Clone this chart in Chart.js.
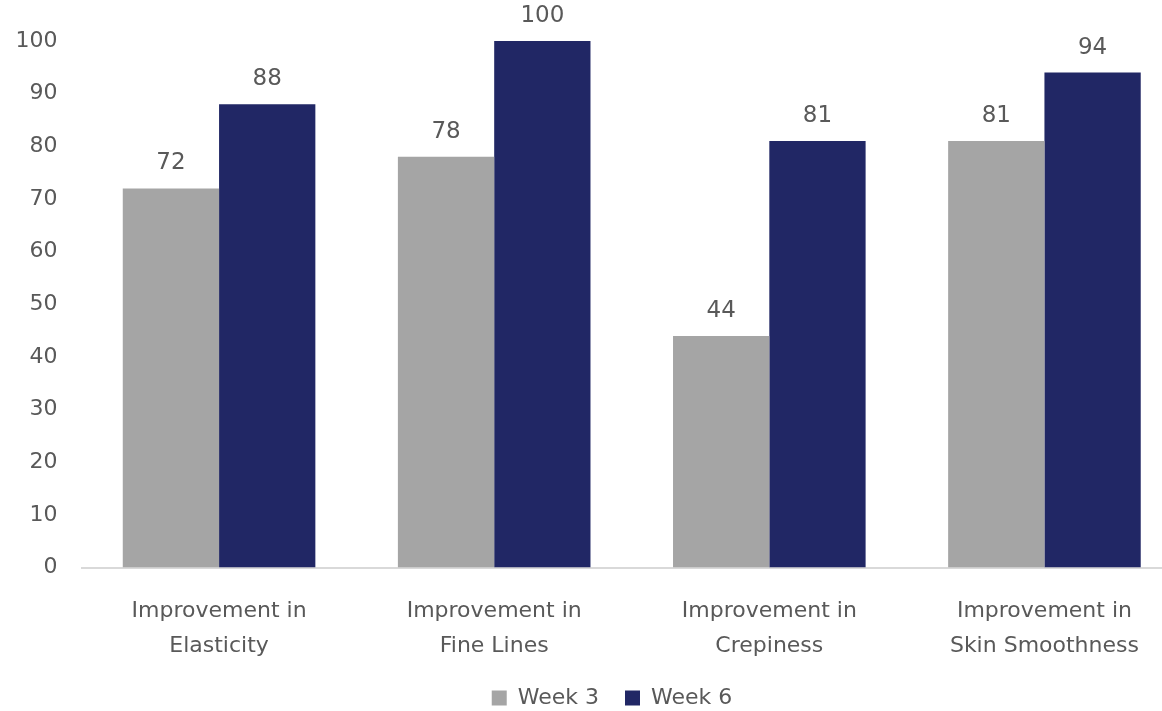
<!DOCTYPE html>
<html>
<head>
<meta charset="utf-8">
<script src="https://cdn.jsdelivr.net/npm/chart.js@4/dist/chart.umd.min.js"></script>
<style>
  html, body { margin: 0; padding: 0; background: #fff; overflow: hidden; }
  #wrap { width: 1182px; height: 711px; }
</style>
</head>
<body>
<div id="wrap"><canvas id="chart"></canvas></div>
<script>
var categories = [
    ["Improvement in", "Elasticity"],
    ["Improvement in", "Fine Lines"],
    ["Improvement in", "Crepiness"],
    ["Improvement in", "Skin Smoothness"]
];
var week3 = [72, 78, 44, 81];
var week6 = [88, 100, 81, 94];
var series_names = ["Week 3", "Week 6"];

// draws the value above each bar
var valueLabels = {
    id: 'valueLabels',
    afterDatasetsDraw: function(chart) {
        var ctx = chart.ctx;
        ctx.save();
        ctx.font = '23px "DejaVu Sans"';
        ctx.fillStyle = '#595959';
        ctx.textAlign = 'center';
        ctx.textBaseline = 'middle';
        chart.data.datasets.forEach(function(ds, i) {
            chart.getDatasetMeta(i).data.forEach(function(bar, j) {
                ctx.fillText(ds.data[j], bar.x, bar.y - 25);
            });
        });
        ctx.restore();
    }
};

// nudge the legend so it sits like the original one
var legendNudge = {
    id: 'legendNudge',
    afterLayout: function(chart) {
        var lg = chart.legend;
        lg.left += 21; lg.right += 21;
        lg.top -= 21; lg.bottom -= 21;
    }
};

Chart.defaults.font.family = '"DejaVu Sans"';
Chart.defaults.color = '#595959';

var ctx = document.getElementById('chart').getContext('2d');
var myChart = new Chart(ctx, {
    type: 'bar',
    data: {
        labels: categories,
        datasets: [{
            label: series_names[0],
            data: week3,
            backgroundColor: "#a5a5a5",
            categoryPercentage: 0.7,
            barPercentage: 1.0
        }, {
            label: series_names[1],
            data: week6,
            backgroundColor: "#212765",
            categoryPercentage: 0.7,
            barPercentage: 1.0
        }]
    },
    options: {
        responsive: true,
        maintainAspectRatio: false,
        animation: false,
        layout: {
            padding: { top: 41, left: 0, right: 0, bottom: -29 }
        },
        scales: {
            x: {
                grid: { display: false },
                border: { display: true, color: '#d9d9d9', width: 2 },
                ticks: {
                    font: { size: 22, lineHeight: 1.6 },
                    padding: 18,
                    maxRotation: 0,
                    autoSkip: false
                }
            },
            y: {
                min: 0,
                max: 100,
                grid: { display: false },
                border: { display: false },
                afterFit: function(scale) { scale.width = 81.5; },
                ticks: {
                    stepSize: 10,
                    font: { size: 22 },
                    padding: 16
                }
            }
        },
        plugins: {
            legend: {
                display: true,
                position: 'bottom',
                labels: {
                    boxWidth: 15,
                    boxHeight: 15,
                    font: { size: 22 },
                    padding: 26
                }
            },
            tooltip: { enabled: false }
        }
    },
    plugins: [valueLabels, legendNudge]
});
</script>
</body>
</html>
